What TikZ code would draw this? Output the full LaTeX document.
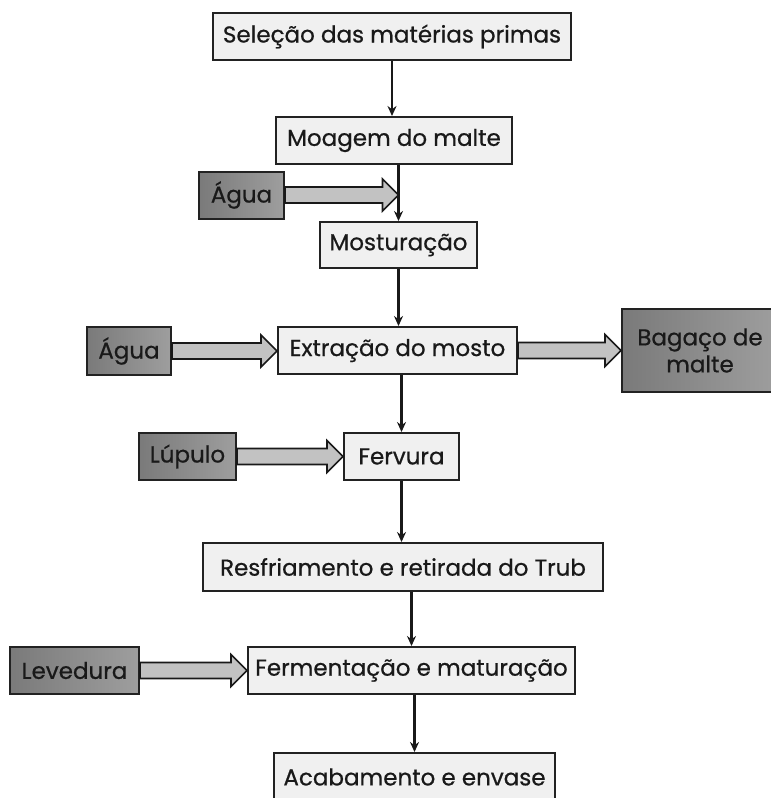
\documentclass[tikz,border=0pt]{standalone}
\usepackage{fontspec}
\setmainfont[FakeBold=0.6]{Poppins}
\usetikzlibrary{calc,arrows.meta}
\definecolor{boxfill}{HTML}{F0F0F0}
\definecolor{boxline}{HTML}{222222}
\definecolor{arrfill}{HTML}{C2C2C2}
\definecolor{sidedark}{HTML}{7A7A7A}
\definecolor{sidelight}{HTML}{9E9E9E}
\tikzset{
  stage/.style={draw=boxline, line width=2pt, fill=boxfill, inner sep=0pt,
    minimum height=47pt, font=\fontsize{23}{27}\selectfont, text=black!90},
  input/.style={draw=boxline, line width=2pt, left color=sidedark, right color=sidelight,
    inner sep=0pt, minimum height=47pt, font=\fontsize{23}{27}\selectfont, text=black!90},
  flow/.style={line width=2.8pt, draw=black!90, -{Stealth[length=10pt,width=9pt]}},
  fatarr/.style={draw=black!90, line width=1.6pt, fill=arrfill, line join=miter},
}
\newcommand\fatarrow[2]{\draw[fatarr] let \p1=(#1.east), \p2=(#2) in
  (\x1,{\y1+8pt}) -- ({\x2-16pt},{\y1+8pt}) -- ({\x2-16pt},{\y1+16pt}) -- (\x2,\y1)
  -- ({\x2-16pt},{\y1-16pt}) -- ({\x2-16pt},{\y1-8pt}) -- (\x1,{\y1-8pt}) -- cycle;}
\begin{document}
\begin{tikzpicture}[x=1pt,y=-1pt]
\useasboundingbox (0,0) rectangle (771,798);
\clip (0,0) rectangle (771,798);
% main stages
\node[stage, minimum width=358pt] (sel) at (392,36.5) {Seleção das matérias primas};
\node[stage, minimum width=236pt] (moa) at (394,140.5) {Moagem do malte};
\node[stage, minimum width=157pt, minimum height=46pt] (mos) at (398.5,245) {Mosturação};
\node[stage, minimum width=239pt] (ext) at (397.5,350.5) {Extração do mosto};
\node[stage, minimum width=115pt] (fer) at (401.5,456.5) {Fervura};
\node[stage, minimum width=400pt, minimum height=48pt] (res) at (403,567) {Resfriamento e retirada do Trub};
\node[stage, minimum width=327pt] (fem) at (411.5,670.5) {Fermentação e maturação};
\node[stage, minimum width=281pt, minimum height=48pt] (aca) at (414.5,777) {Acabamento e envase};
% inputs / outputs
\node[input, minimum width=85pt] (ag1) at (241.5,195) {Água};
\node[input, minimum width=84pt, minimum height=48pt] (ag2) at (129,351) {Água};
\node[input, minimum width=156pt, minimum height=83pt, align=center] (bag) at (700,350.5) {Bagaço de\\malte};
\node[input, minimum width=97pt] (lup) at (187.5,456.5) {Lúpulo};
\node[input, minimum width=129pt] (lev) at (74.5,670.5) {Levedura};
% vertical flow
\draw[flow] (sel.south) -- (sel.south |- moa.north);
\draw[flow] (mos.north |- moa.south) -- (mos.north);
\coordinate (j1) at (mos.north |- ag1.east);
\draw[flow] (mos.south) -- (mos.south |- ext.north);
\draw[flow] (fer.north |- ext.south) -- (fer.north);
\draw[flow] (fer.south) -- (fer.south |- res.north);
\draw[flow] (fem.north |- res.south) -- (fem.north);
\draw[flow] (aca.north |- fem.south) -- (aca.north);
% fat arrows
\fatarrow{ag1}{j1}
\fatarrow{ag2}{ext.west}
\fatarrow{ext}{bag.west}
\fatarrow{lup}{fer.west}
\fatarrow{lev}{fem.west}
\end{tikzpicture}
\end{document}
